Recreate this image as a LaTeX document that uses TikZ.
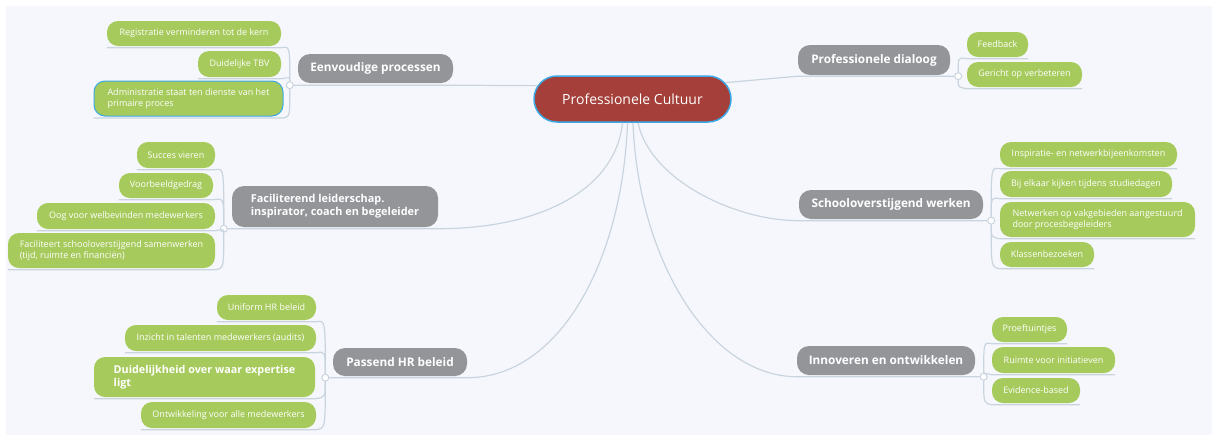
\documentclass[tikz,border=0pt]{standalone}
\usepackage{fontspec}
\setmainfont{Open Sans}
\usepackage{tikz}
\usetikzlibrary{shapes}
\usetikzlibrary{calc}
\definecolor{bggrey}{HTML}{F6F7FC}
\definecolor{linegrey}{HTML}{C9D4DF}
\definecolor{topicgrey}{HTML}{939599}
\definecolor{leafgreen}{HTML}{A6CA5C}
\definecolor{corered}{HTML}{A43F39}
\definecolor{selblue}{HTML}{3DA8E6}
\tikzstyle{cred}   = [rounded rectangle, fill=corered, draw=selblue, line width=1.5pt, text=white, font=\fontsize{14}{16}\selectfont, minimum width=197pt, minimum height=46pt, inner sep=0pt]
\tikzstyle{cgrey}  = [rounded corners=12pt, fill=topicgrey, text=white, font=\bfseries\fontsize{11.8}{13}\selectfont, minimum height=29pt, inner sep=0pt, align=left]
\tikzstyle{cgreen} = [rounded corners=11pt, fill=leafgreen, text=white, font=\fontsize{9}{11.5}\selectfont, minimum height=25pt, inner sep=0pt, align=left]
\tikzstyle{cline}  = [draw=linegrey, line width=1.2pt]
\tikzstyle{cknob}  = [circle, fill=white, draw=linegrey, line width=1pt, minimum size=7pt, inner sep=0pt]

\begin{document}
\begin{tikzpicture}[x=1pt, y=-1pt]
      \useasboundingbox (0,0) rectangle (1212,437);
      \fill[white] (0,0) rectangle (1212,437);
      \fill[bggrey] (6,6) rectangle (1212,435);

      \node[cred] (core) at (632.5,99) {Professionele Cultuur};

      \node[cgrey, minimum width=155pt] (simple) at (375.5,68.5) {Eenvoudige processen};
      \node[cgrey, minimum width=206pt, minimum height=41pt, font=\bfseries\fontsize{10.9}{13}\selectfont] (lead) at (335,206.5) {Faciliterend leiderschap.\\inspirator, coach en begeleider};
      \node[cgrey, minimum width=134pt, minimum height=28pt] (hr) at (400,362) {Passend HR beleid};
      \node[cgrey, minimum width=152pt, minimum height=30pt] (dialog) at (874,60) {Professionele dialoog};
      \node[cgrey, minimum width=184pt] (cross) at (891,204.5) {Schooloverstijgend werken};
      \node[cgrey, minimum width=178pt] (innov) at (886,360.5) {Innoveren en ontwikkelen};

      \node[cgreen, minimum width=174pt] (s1) at (194,33.5) {Registratie verminderen tot de kern};
      \node[cgreen, minimum width=83pt, minimum height=26pt] (s2) at (239.5,64) {Duidelijke TBV};
      \node[cgreen, minimum width=189pt, minimum height=35pt, draw=selblue, line width=1pt] (s3) at (188.5,98.5) {Administratie staat ten dienste van het\\primaire proces};

      \node[cgreen, minimum width=78pt, minimum height=26pt] (l1) at (176,155) {Succes vieren};
      \node[cgreen, minimum width=94pt] (l2) at (166,185.5) {Voorbeeldgedrag};
      \node[cgreen, minimum width=178pt, minimum height=26pt] (l3) at (126,216) {Oog voor welbevinden medewerkers};
      \node[cgreen, minimum width=207pt, minimum height=35pt] (l4) at (111.5,250.5) {Faciliteert schooloverstijgend samenwerken\\(tijd, ruimte en financiën)};

      \node[cgreen, minimum width=99pt] (h1) at (266.5,307.5) {Uniform HR beleid};
      \node[cgreen, minimum width=191pt, minimum height=26pt] (h2) at (220.5,338) {Inzicht in talenten medewerkers (audits)};
      \node[cgreen, minimum width=221pt, minimum height=40pt, font=\bfseries\fontsize{10.8}{13}\selectfont] (h3) at (204.5,377) {Duidelijkheid over waar expertise\\ligt};
      \node[cgreen, minimum width=175pt, minimum height=26pt] (h4) at (228.5,415) {Ontwikkeling voor alle medewerkers};

      \node[cgreen, minimum width=61pt] (d1) at (997.5,44.5) {Feedback};
      \node[cgreen, minimum width=115pt] (d2) at (1024.5,74.5) {Gericht op verbeteren};

      \node[cgreen, minimum width=177pt] (c1) at (1088.5,154.5) {Inspiratie- en netwerkbijeenkomsten};
      \node[cgreen, minimum width=172pt, minimum height=26pt] (c2) at (1086,184) {Bij elkaar kijken tijdens studiedagen};
      \node[cgreen, minimum width=195pt, minimum height=35pt] (c3) at (1097.5,219.5) {Netwerken op vakgebieden aangestuurd\\door procesbegeleiders};
      \node[cgreen, minimum width=94pt] (c4) at (1047,254.5) {Klassenbezoeken};

      \node[cgreen, minimum width=75pt] (i1) at (1029.5,329.5) {Proeftuintjes};
      \node[cgreen, minimum width=123pt, minimum height=26pt] (i2) at (1053.5,360) {Ruimte voor initiatieven};
      \node[cgreen, minimum width=88pt] (i3) at (1036,390.5) {Evidence-based};

      \node[cknob] (sknob) at ([xshift=-8pt,yshift=-2pt]simple.south west) {};
      \node[cknob] (lknob) at ([xshift=-8pt,yshift=-1.5pt]lead.south west) {};
      \node[cknob] (hknob) at ([xshift=-7.5pt,yshift=-1.5pt]hr.south west) {};
      \node[cknob] (dknob) at ([xshift=8pt,yshift=-1pt]dialog.south east) {};
      \node[cknob] (cknob) at ([xshift=8pt,yshift=-1.5pt]cross.south east) {};
      \node[cknob] (iknob) at ([xshift=8.5pt,yshift=-1.5pt]innov.south east) {};

      \draw[cline] (core.172) -- ([yshift=-2pt]simple.south east) -- (sknob);
      \draw[cline] (core.10) -- ([yshift=-1pt]dialog.south west) -- (dknob);
      \draw[cline] ([xshift=-10pt]core.south) .. controls +(-7,67) and +(102,0) .. ([yshift=-1.5pt]lead.south east) -- (lknob);
      \draw[cline] ([xshift=-5pt]core.south) .. controls +(-5,137) and +(93,0) .. ([yshift=-1.5pt]hr.south east) -- (hknob);
      \draw[cline] ([xshift=5.5pt]core.south) .. controls +(12,57) and +(-64,0) .. ([yshift=-1.5pt]cross.south west) -- (cknob);
      \draw[cline] ([xshift=0.5pt]core.south) .. controls +(5,137) and +(-87,0) .. ([yshift=-1.5pt]innov.south west) -- (iknob);

      \draw[cline] (sknob) .. controls (sknob |- s1.south) .. ([yshift=-1.5pt]s1.south east) -- ([yshift=-1.5pt]s1.south west);
      \draw[cline] (sknob) .. controls (sknob |- s2.south) .. ([yshift=-1.5pt]s2.south east) -- ([yshift=-1.5pt]s2.south west);
      \draw[cline] (sknob) .. controls (sknob |- s3.south) .. ([yshift=-1.5pt]s3.south east) -- ([yshift=-1.5pt]s3.south west);
      \draw[cline] (lknob) .. controls (lknob |- l1.south) .. ([yshift=-1.5pt]l1.south east) -- ([yshift=-1.5pt]l1.south west);
      \draw[cline] (lknob) .. controls (lknob |- l2.south) .. ([yshift=-1.5pt]l2.south east) -- ([yshift=-1.5pt]l2.south west);
      \draw[cline] (lknob) .. controls (lknob |- l3.south) .. ([yshift=-1.5pt]l3.south east) -- ([yshift=-1.5pt]l3.south west);
      \draw[cline] (lknob) .. controls (lknob |- l4.south) .. ([yshift=-1.5pt]l4.south east) -- ([yshift=-1.5pt]l4.south west);
      \draw[cline] (hknob) .. controls (hknob |- h1.south) .. ([yshift=-1.5pt]h1.south east) -- ([yshift=-1.5pt]h1.south west);
      \draw[cline] (hknob) .. controls (hknob |- h2.south) .. ([yshift=-1.5pt]h2.south east) -- ([yshift=-1.5pt]h2.south west);
      \draw[cline] (hknob) .. controls (hknob |- h3.south) .. ([yshift=-1.5pt]h3.south east) -- ([yshift=-1.5pt]h3.south west);
      \draw[cline] (hknob) .. controls (hknob |- h4.south) .. ([yshift=-1.5pt]h4.south east) -- ([yshift=-1.5pt]h4.south west);
      \draw[cline] (dknob) .. controls (dknob |- d1.south) .. ([yshift=-1.5pt]d1.south west) -- ([yshift=-1.5pt]d1.south east);
      \draw[cline] (dknob) .. controls (dknob |- d2.south) .. ([yshift=-1.5pt]d2.south west) -- ([yshift=-1.5pt]d2.south east);
      \draw[cline] (cknob) .. controls (cknob |- c1.south) .. ([yshift=-1.5pt]c1.south west) -- ([yshift=-1.5pt]c1.south east);
      \draw[cline] (cknob) .. controls (cknob |- c2.south) .. ([yshift=-1.5pt]c2.south west) -- ([yshift=-1.5pt]c2.south east);
      \draw[cline] (cknob) .. controls (cknob |- c3.south) .. ([yshift=-1.5pt]c3.south west) -- ([yshift=-1.5pt]c3.south east);
      \draw[cline] (cknob) .. controls (cknob |- c4.south) .. ([yshift=-1.5pt]c4.south west) -- ([yshift=-1.5pt]c4.south east);
      \draw[cline] (iknob) .. controls (iknob |- i1.south) .. ([yshift=-1.5pt]i1.south west) -- ([yshift=-1.5pt]i1.south east);
      \draw[cline] (iknob) .. controls (iknob |- i2.south) .. ([yshift=-1.5pt]i2.south west) -- ([yshift=-1.5pt]i2.south east);
      \draw[cline] (iknob) .. controls (iknob |- i3.south) .. ([yshift=-1.5pt]i3.south west) -- ([yshift=-1.5pt]i3.south east);
\end{tikzpicture}
\end{document}
